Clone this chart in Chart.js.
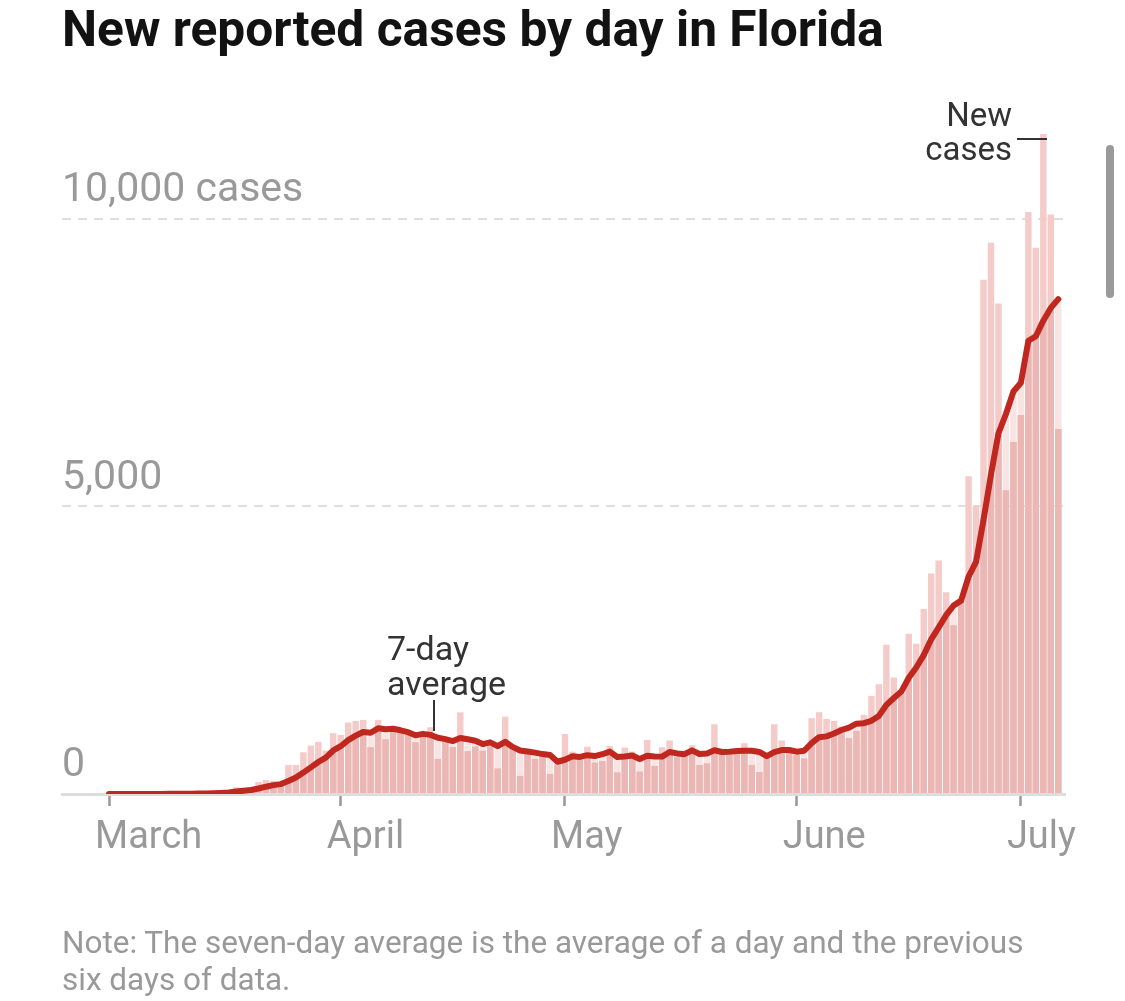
<!DOCTYPE html>
<html>
<head>
<meta charset="utf-8">
<script src="https://cdn.jsdelivr.net/npm/chart.js@4.4.0/dist/chart.umd.min.js"></script>
<style>
html,body{margin:0;padding:0;background:#fff;}
#wrap{position:relative;width:1125px;height:1001px;overflow:hidden;background:#fff;}
#c{position:absolute;left:0;top:0;}
.t{position:absolute;white-space:nowrap;font-family:Roboto,"Liberation Sans",sans-serif;}
#title{left:62px;top:5px;font-size:49.7px;line-height:49px;font-weight:700;color:#121212;}
#note{left:62px;top:924px;font-size:31.5px;line-height:37px;color:#999;}
#ann1{left:387px;top:631px;font-size:34px;line-height:35px;color:#333;}
#ann2{right:113px;top:98px;font-size:33px;line-height:34px;color:#333;text-align:right;}
.lead{position:absolute;background:#333;}
#scroll{position:absolute;left:1106px;top:145px;width:8px;height:153px;border-radius:4px;background:#9a9a9a;}
</style>
</head>
<body>
<div id="wrap">
<canvas id="c" width="1125" height="1001"></canvas>
<div class="t" id="title">New reported cases by day in Florida</div>
<div class="t" id="ann1">7-day<br>average</div>
<div class="lead" style="left:433px;top:700px;width:2px;height:31px;"></div>
<div class="t" id="ann2">New<br>cases</div>
<div class="lead" style="left:1017px;top:138px;width:30px;height:2px;"></div>
<div class="t" id="note">Note: The seven-day average is the average of a day and the previous<br>six days of data.</div>
<div id="scroll"></div>
</div>
<script>
const dates = [
"2020-03-01","2020-03-02","2020-03-03","2020-03-04","2020-03-05","2020-03-06","2020-03-07","2020-03-08","2020-03-09","2020-03-10",
"2020-03-11","2020-03-12","2020-03-13","2020-03-14","2020-03-15","2020-03-16","2020-03-17","2020-03-18","2020-03-19","2020-03-20",
"2020-03-21","2020-03-22","2020-03-23","2020-03-24","2020-03-25","2020-03-26","2020-03-27","2020-03-28","2020-03-29","2020-03-30",
"2020-03-31","2020-04-01","2020-04-02","2020-04-03","2020-04-04","2020-04-05","2020-04-06","2020-04-07","2020-04-08","2020-04-09",
"2020-04-10","2020-04-11","2020-04-12","2020-04-13","2020-04-14","2020-04-15","2020-04-16","2020-04-17","2020-04-18","2020-04-19",
"2020-04-20","2020-04-21","2020-04-22","2020-04-23","2020-04-24","2020-04-25","2020-04-26","2020-04-27","2020-04-28","2020-04-29",
"2020-04-30","2020-05-01","2020-05-02","2020-05-03","2020-05-04","2020-05-05","2020-05-06","2020-05-07","2020-05-08","2020-05-09",
"2020-05-10","2020-05-11","2020-05-12","2020-05-13","2020-05-14","2020-05-15","2020-05-16","2020-05-17","2020-05-18","2020-05-19",
"2020-05-20","2020-05-21","2020-05-22","2020-05-23","2020-05-24","2020-05-25","2020-05-26","2020-05-27","2020-05-28","2020-05-29",
"2020-05-30","2020-05-31","2020-06-01","2020-06-02","2020-06-03","2020-06-04","2020-06-05","2020-06-06","2020-06-07","2020-06-08",
"2020-06-09","2020-06-10","2020-06-11","2020-06-12","2020-06-13","2020-06-14","2020-06-15","2020-06-16","2020-06-17","2020-06-18",
"2020-06-19","2020-06-20","2020-06-21","2020-06-22","2020-06-23","2020-06-24","2020-06-25","2020-06-26","2020-06-27","2020-06-28",
"2020-06-29","2020-06-30","2020-07-01","2020-07-02","2020-07-03","2020-07-04","2020-07-05","2020-07-06"
];
const newCases = [
2,0,1,0,2,4,3,6,1,7,6,9,18,20,
30,40,60,116,100,120,209,244,226,190,505,505,726,842,906,755,1057,1028,
1243,1272,1289,813,1289,952,1086,1057,1040,900,1000,1161,610,912,815,1420,745,825,752,825,445,1345,796,314,695,610,650,348,512,1045,
737,610,822,546,572,836,375,807,740,389,941,488,813,929,639,655,848,505,534,1213,720,679,737,883,505,383,700,1213,929,740,
679,617,1318,1423,1307,1272,1173,970,1098,1376,1707,1910,2596,2027,1754,2787,2613,3217,3833,4059,3507,2933,3380,5528,5017,
8942,9585,8530,5284,6121,6591,10120,9500,11480,10080,6350
];
const sevenDayAvg = [
2,1,1,1,1,2,2,2,3,3,4,5,7,9,
13,19,26,42,55,69,96,127,154,172,228,286,372,463,557,633,757,831,
937,1015,1079,1065,1142,1127,1135,1108,1075,1020,1046,1028,979,954,920,974,952,927,868,899,832,908,819,757,739,719,694,680,561,596,
657,645,675,660,692,738,643,653,671,609,666,654,650,730,706,693,759,697,703,760,731,736,748,753,753,731,658,729,764,765,
736,752,885,988,1002,1051,1113,1154,1223,1231,1272,1358,1547,1669,1781,2022,2199,2415,2690,2899,3110,3278,3363,3780,4037,
4767,5556,6274,6609,7001,7153,7882,7962,8232,8454,8606
];
const monthTickDays = [0, 31, 61, 92, 122];
const monthTickLabels = ["March", "April", "May", "June", "July"];
const yTickValues = [0, 5000, 10000];
const yTickLabels = ["0", "5,000", "10,000 cases"];

const dayIndex = dates.map((d, i) => i);
const belowAvg = newCases.map((v, i) => Math.min(v, sevenDayAvg[i]));

Chart.defaults.font.family = 'Roboto, "Liberation Sans", sans-serif';

new Chart(document.getElementById('c'), {
  type: 'bar',
  data: {
    labels: dayIndex,
    datasets: [
      { type: 'line', label: '7-day average', data: sevenDayAvg, borderColor: '#c0281f', borderWidth: 6,
        pointRadius: 0, tension: 0, fill: false, borderCapStyle: 'round', borderJoinStyle: 'round', order: 0 },
      { type: 'bar', label: 'below', data: belowAvg, backgroundColor: '#ebb7b5', grouped: false,
        barPercentage: 1, categoryPercentage: 0.86, order: 1 },
      { type: 'bar', label: 'New cases', data: newCases, backgroundColor: '#f4cbc9', grouped: false,
        barPercentage: 1, categoryPercentage: 0.86, order: 2 },
      { type: 'bar', label: 'avg fill', data: sevenDayAvg, backgroundColor: '#f7e4e3', grouped: false,
        barPercentage: 1, categoryPercentage: 0.86, order: 3 }
    ]
  },
  options: {
    responsive: false,
    animation: false,
    devicePixelRatio: 1,
    layout: { padding: { left: 62, right: 60, top: 104, bottom: 0 } },
    plugins: { legend: { display: false }, tooltip: { enabled: false }, title: { display: false } },
    scales: {
      x: {
        type: 'linear',
        offset: false,
        min: -6.29,
        max: 127.9,
        afterFit: s => { s.height = 207; },
        afterBuildTicks: s => { s.ticks = monthTickDays.map(v => ({ value: v })); },
        border: { display: true, color: '#dddddd', width: 3 },
        grid: { display: true, offset: false, drawOnChartArea: false, drawTicks: true, tickLength: 12,
                tickColor: '#999', tickWidth: 2.5, color: '#999' },
        ticks: {
          autoSkip: false, maxRotation: 0, align: 'start', labelOffset: -14, padding: 10,
          color: '#999', font: { size: 38 },
          callback: v => monthTickLabels[monthTickDays.indexOf(v)]
        }
      },
      y: {
        type: 'linear',
        min: 0,
        max: 12000,
        afterFit: s => { s.width = 0; },
        afterBuildTicks: s => { s.ticks = yTickValues.map(v => ({ value: v })); },
        border: { display: false, dash: [9, 7] },
        grid: { drawTicks: false, lineWidth: 2,
                color: ctx => (ctx.tick && ctx.tick.value === 0) ? 'rgba(0,0,0,0)' : '#dedede' },
        ticks: {
          mirror: true, padding: 0, labelOffset: -28, color: '#999', font: { size: 41 },
          callback: v => yTickLabels[yTickValues.indexOf(v)]
        }
      }
    }
  }
});
</script>
</body>
</html>
